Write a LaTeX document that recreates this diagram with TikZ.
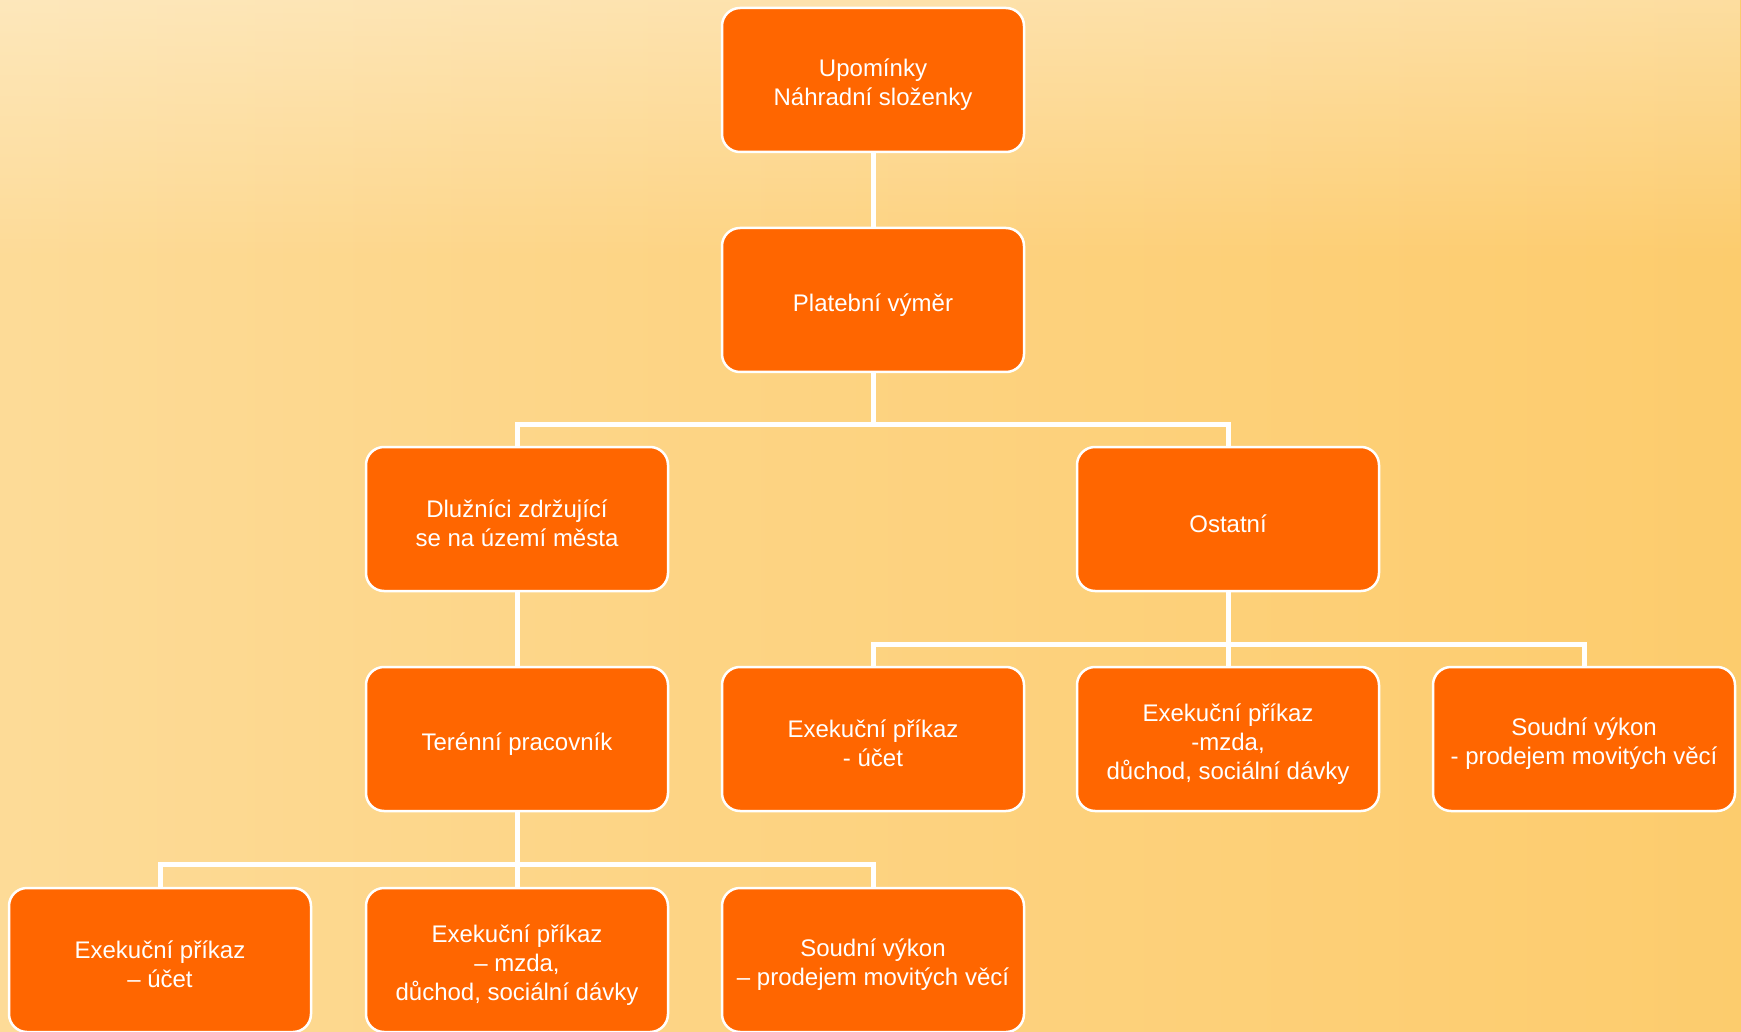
\documentclass[tikz,border=0pt]{standalone}
\usepackage{fontspec}
\setmainfont{Liberation Sans}
\usetikzlibrary{calc,fadings}
\definecolor{boxorange}{HTML}{FF6600}
\definecolor{bgA}{HTML}{FFF5E4}
\definecolor{bgB}{HTML}{FEEACA}
\definecolor{bgC}{HTML}{FDDFA2}
\definecolor{bgD}{HTML}{FDD484}
\definecolor{bgE}{HTML}{FCC55A}
\pgfdeclarehorizontalshading{bgshade}{100bp}{color(0bp)=(bgA); color(4bp)=(bgB); color(14bp)=(bgC); color(45bp)=(bgD); color(100bp)=(bgE)}
\newcommand{\boxstrut}{\rule{0pt}{27pt}}
\tikzset{
  orgbox/.style={rectangle, rounded corners=18pt, fill=boxorange, draw=white,
    line width=2.5pt, text=white, align=center, minimum width=302pt,
    minimum height=144pt, inner sep=0pt,
    font=\fontsize{24}{29}\selectfont},
  link/.style={draw=white, line width=5pt}
}
\begin{document}
\begin{tikzpicture}[x=1pt,y=-1pt]
\useasboundingbox (0,0) rectangle (1741,1032);
\clip (0,0) rectangle (1741,1032);
\shade[shading=bgshade] (0,0) rectangle (1741,1032);
\fill[white, opacity=0.35, path fading=south] (0,0) rectangle (1741,260);
% nodes
\node[orgbox] (upo)  at (873,80)  {\boxstrut Upomínky\\Náhradní složenky};
\node[orgbox] (plat) at (873,300) {\boxstrut Platební výměr};
\node[orgbox] (dluz) at (517,519) {\boxstrut Dlužníci zdržující\\se na území města};
\node[orgbox] (ost)  at (1228,519) {\boxstrut Ostatní};
\node[orgbox] (ter)  at (517,739) {\boxstrut Terénní pracovník};
\node[orgbox] (eua)  at (873,739) {\boxstrut Exekuční příkaz\\- účet};
\node[orgbox] (ema)  at (1228,739) {\boxstrut Exekuční příkaz\\-mzda,\\důchod, sociální dávky};
\node[orgbox] (sva)  at (1584,739) {\boxstrut Soudní výkon\\- prodejem movitých věcí};
\node[orgbox] (eub)  at (160,960) {\boxstrut Exekuční příkaz\\– účet};
\node[orgbox] (emb)  at (517,960) {\boxstrut Exekuční příkaz\\– mzda,\\důchod, sociální dávky};
\node[orgbox] (svb)  at (873,960) {\boxstrut Soudní výkon\\– prodejem movitých věcí};
% bar coordinates
\coordinate (b1) at (873,424);
\coordinate (b2) at (1228,644);
\coordinate (b3) at (517,864);
% connectors
\path[link] (upo.south) -- (plat.north);
\path[link] (plat.south) -- (b1);
\path[link] (dluz.north) |- (b1) -| (ost.north);
\path[link] (dluz.south) -- (ter.north);
\path[link] (ost.south) -- (b2);
\path[link] (eua.north) |- (b2) -| (sva.north);
\path[link] (b2) -- (ema.north);
\path[link] (ter.south) -- (b3);
\path[link] (eub.north) |- (b3) -| (svb.north);
\path[link] (b3) -- (emb.north);
\end{tikzpicture}
\end{document}
